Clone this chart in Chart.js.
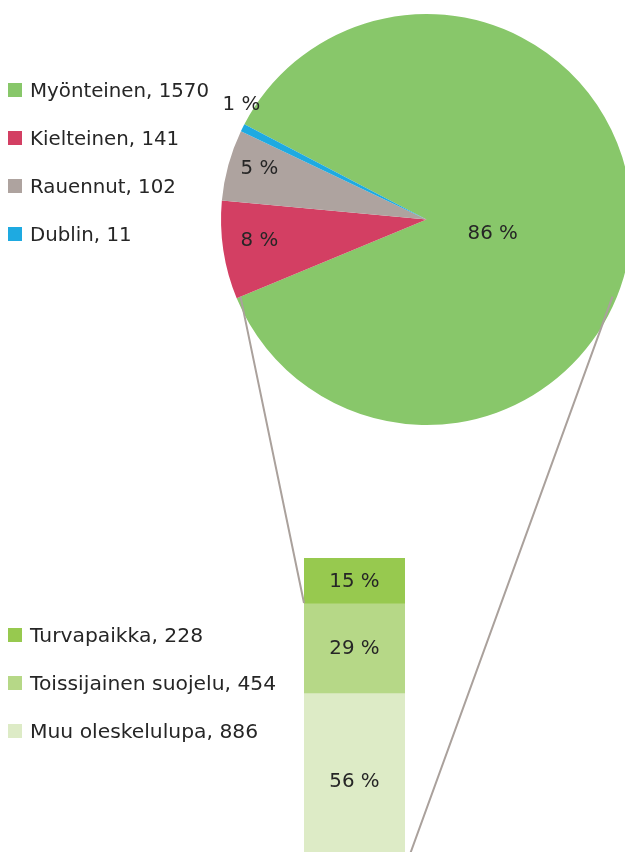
<!DOCTYPE html>
<html>
<head>
<meta charset="utf-8">
<script src="https://cdn.jsdelivr.net/npm/chart.js@4"></script>
<style>
  html, body { margin: 0; padding: 0; background: #fff; overflow: hidden; }
  #stage { position: relative; width: 625px; height: 852px; overflow: hidden; }
  #stage canvas { position: absolute; }
  .legend { position: absolute; left: 8px; font-family: "DejaVu Sans", Verdana, sans-serif; font-size: 19.8px; color: #262626; }
  #barLegend { font-size: 20.3px; }
  .legend .row { position: absolute; white-space: nowrap; display: flex; align-items: center; height: 24px; }
  .legend .box { width: 14px; height: 14px; margin-right: 8px; flex: none; }
</style>
</head>
<body>
<div id="stage">
  <canvas id="pie" width="493" height="440" style="left:180px;top:0px"></canvas>
  <canvas id="bar" width="101" height="310" style="left:304px;top:558px"></canvas>
  <canvas id="links" width="625" height="852" style="left:0;top:0"></canvas>
  <div class="legend" id="pieLegend" style="top:78px"></div>
  <div class="legend" id="barLegend" style="top:623px"></div>
</div>
<script>
// päätökset (piirakka)
const pieNames = ['Myönteinen', 'Kielteinen', 'Rauennut', 'Dublin'];
const pieValues = [1570, 141, 102, 11];
const pieShares = ['86 %', '8 %', '5 %', '1 %'];
const pieColors = ['#88c76a', '#d33f63', '#aea39f', '#1eaae1'];

// myönteisten erittely (pylväs)
const barNames = ['Turvapaikka', 'Toissijainen suojelu', 'Muu oleskelulupa'];
const barValues = [228, 454, 886];
const barShares = ['15 %', '29 %', '56 %'];
const barColors = ['#97c94f', '#b6d887', '#ddebc6'];

const FONT = '19.8px "DejaVu Sans", Verdana, sans-serif';
const TEXT = '#262626';
const LINK = '#aaa19c';

// label placement per slice: [radius factor, angle shift in degrees]
const pieLabelPos = [[0.33, 10], [0.82, 1.3], [0.85, 1.6], [1.06, 5.3]];

function buildLegend(el, names, values, colors) {
  names.forEach((n, i) => {
    const row = document.createElement('div');
    row.className = 'row';
    row.style.top = (i * 48) + 'px';
    row.innerHTML = '<span class="box" style="background:' + colors[i] + '"></span>' + n + ', ' + values[i];
    el.appendChild(row);
  });
}
buildLegend(document.getElementById('pieLegend'), pieNames, pieValues, pieColors);
buildLegend(document.getElementById('barLegend'), barNames, barValues, barColors);

const pieLabels = {
  id: 'pieLabels',
  afterDatasetsDraw(chart) {
    const ctx = chart.ctx;
    ctx.save();
    ctx.font = FONT;
    ctx.fillStyle = TEXT;
    ctx.textAlign = 'center';
    ctx.textBaseline = 'middle';
    chart.getDatasetMeta(0).data.forEach((arc, i) => {
      const p = pieLabelPos[i];
      const a = (arc.startAngle + arc.endAngle) / 2 + p[1] * Math.PI / 180;
      const r = arc.outerRadius * p[0];
      ctx.fillText(pieShares[i], arc.x + Math.cos(a) * r, arc.y + Math.sin(a) * r);
    });
    ctx.restore();
  }
};

const pieChart = new Chart(document.getElementById('pie'), {
  type: 'pie',
  data: {
    labels: pieNames,
    datasets: [{ data: pieValues, backgroundColor: pieColors, borderWidth: 0 }]
  },
  options: {
    responsive: false,
    animation: false,
    rotation: 297.6,
    layout: { padding: { left: 41, right: 41, top: 14, bottom: 15 } },
    plugins: { legend: { display: false }, tooltip: { enabled: false } }
  },
  plugins: [pieLabels]
});

const barLabels = {
  id: 'barLabels',
  afterDatasetsDraw(chart) {
    const ctx = chart.ctx;
    ctx.save();
    ctx.font = FONT;
    ctx.fillStyle = TEXT;
    ctx.textAlign = 'center';
    ctx.textBaseline = 'middle';
    chart.data.datasets.forEach((ds, i) => {
      const bar = chart.getDatasetMeta(i).data[0];
      ctx.fillText(barShares[i], bar.x, (bar.y + bar.base) / 2 + 1);
    });
    ctx.restore();
  }
};

const barTotal = barValues.reduce((a, b) => a + b, 0);
const barChart = new Chart(document.getElementById('bar'), {
  type: 'bar',
  data: {
    labels: ['Myönteinen'],
    datasets: barNames.map((n, i) => ({
      label: n,
      data: [barValues[i]],
      backgroundColor: barColors[i],
      borderWidth: 0,
      barPercentage: 1,
      categoryPercentage: 1
    }))
  },
  options: {
    responsive: false,
    animation: false,
    layout: { padding: 0 },
    scales: {
      x: { display: false, stacked: true },
      y: { display: false, stacked: true, reverse: true, min: 0, max: barTotal }
    },
    plugins: { legend: { display: false }, tooltip: { enabled: false } }
  },
  plugins: [barLabels]
});

// yhdysviivat piirakasta pylvääseen
function drawLinks() {
  const c = document.getElementById('links');
  const ctx = c.getContext('2d');
  const pieBox = pieChart.canvas.getBoundingClientRect();
  const barBox = barChart.canvas.getBoundingClientRect();
  const arc = pieChart.getDatasetMeta(0).data[0];
  const top = barChart.getDatasetMeta(0).data[0];
  const last = barChart.getDatasetMeta(barNames.length - 1).data[0];
  const r = arc.outerRadius * 0.98;
  const a = arc.endAngle;
  const p1 = { x: pieBox.left + arc.x + Math.cos(a) * r, y: pieBox.top + arc.y + Math.sin(a) * r };
  const p2 = { x: pieBox.left + arc.x - Math.cos(a) * r, y: p1.y };
  const b1 = { x: barBox.left + top.x - top.width / 2, y: barBox.top + Math.max(top.y, top.base) };
  const b2 = { x: barBox.left + last.x + last.width / 2, y: barBox.top + Math.max(last.y, last.base) };
  ctx.strokeStyle = LINK;
  ctx.lineWidth = 2;
  ctx.beginPath();
  ctx.moveTo(p1.x, p1.y); ctx.lineTo(b1.x, b1.y);
  ctx.moveTo(p2.x, p2.y); ctx.lineTo(b2.x, b2.y);
  ctx.stroke();
}
drawLinks();
</script>
</body>
</html>
